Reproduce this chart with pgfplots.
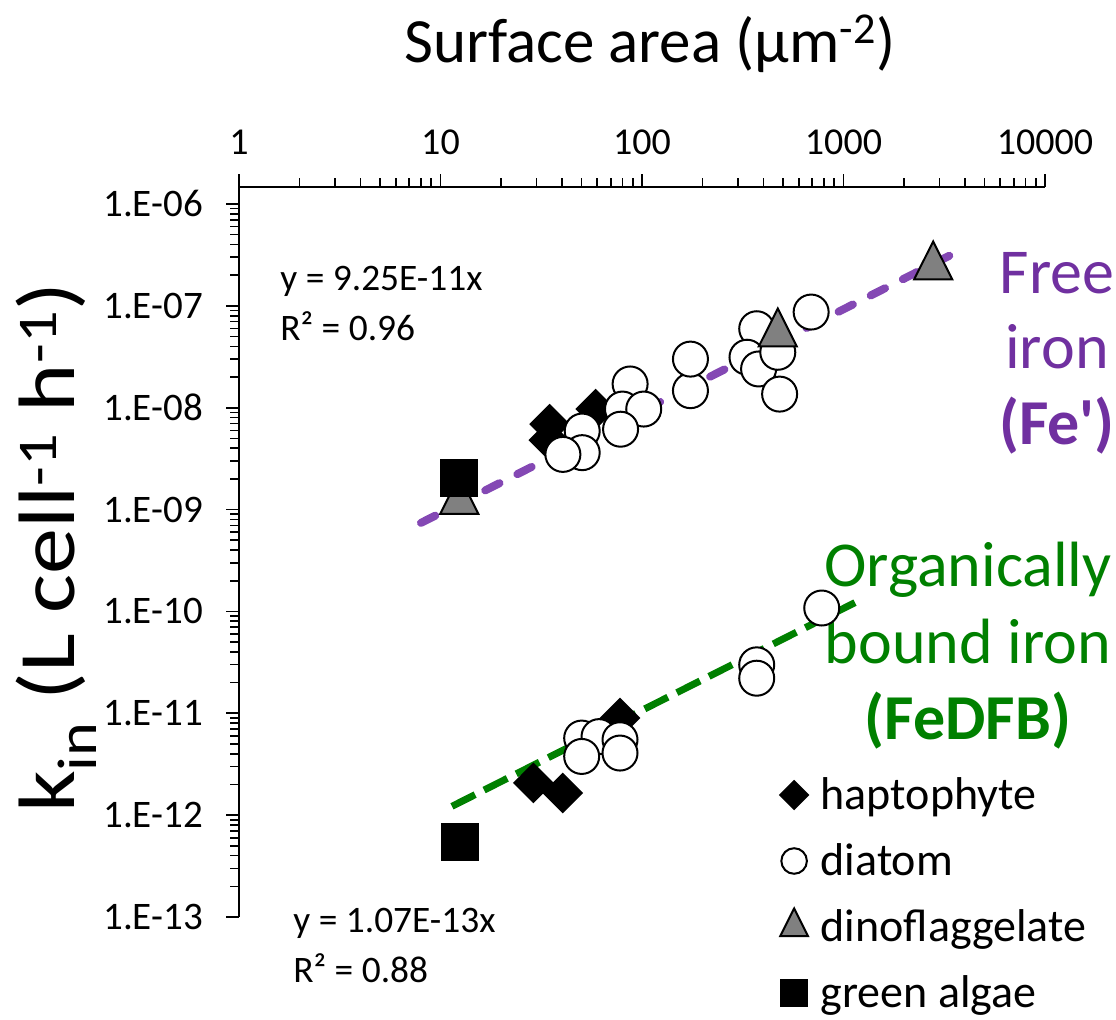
\documentclass[border=0pt]{standalone}
\usepackage{pgfplots}
\pgfplotsset{compat=1.18}
\usepackage{fontspec}
\setmainfont{Carlito}
\newfontfamily\plaincarlito{Carlito}
\definecolor{fepurple}{RGB}{112,48,160}
\definecolor{felinepurple}{RGB}{132,72,180}
\definecolor{dfbgreen}{RGB}{0,128,0}
\definecolor{trigray}{RGB}{128,128,128}
\begin{document}
\begin{tikzpicture}
\useasboundingbox (-119.5pt,-51.5pt) rectangle (438.5pt,458.5pt);
\begin{axis}[
  at={(0pt,0pt)}, anchor=south west,
  scale only axis, width=403pt, height=365pt,
  xmode=log, ymode=log,
  xmin=1, xmax=10000, ymin=1e-13, ymax=1.468e-6,
  axis x line*=top, axis y line*=left,
  axis line style={line width=1pt, black},
  tick align=outside,
  major tick length=6.5pt, minor tick length=4.5pt,
  every tick/.style={black, line width=0.8pt},
  xtick={1,10,100,1000,10000},
  xticklabels={1,10,100,1000,10000},
  minor xtick={2,3,4,5,6,7,8,9,20,30,40,50,60,70,80,90,200,300,400,500,600,700,800,900,2000,3000,4000,5000,6000,7000,8000,9000},
  ytick={1e-13,1e-12,1e-11,1e-10,1e-9,1e-8,1e-7,1e-6},
  yticklabels={1.E-13,1.E-12,1.E-11,1.E-10,1.E-09,1.E-08,1.E-07,1.E-06},
  minor ytick={2e-13,3e-13,4e-13,5e-13,6e-13,7e-13,8e-13,9e-13,
    2e-12,3e-12,4e-12,5e-12,6e-12,7e-12,8e-12,9e-12,
    2e-11,3e-11,4e-11,5e-11,6e-11,7e-11,8e-11,9e-11,
    2e-10,3e-10,4e-10,5e-10,6e-10,7e-10,8e-10,9e-10,
    2e-9,3e-9,4e-9,5e-9,6e-9,7e-9,8e-9,9e-9,
    2e-8,3e-8,4e-8,5e-8,6e-8,7e-8,8e-8,9e-8,
    2e-7,3e-7,4e-7,5e-7,6e-7,7e-7,8e-7,9e-7},
  /pgf/number format/assume math mode=true,
  xticklabel style={font=\fontsize{19}{22}\selectfont, yshift=6pt},
  yticklabel style={font=\fontsize{19.5}{23}\selectfont, xshift=-8pt},
  clip=false,
  legend style={at={(rel axis cs:0.671,0.197)}, anchor=north west, draw=none, fill=none,
    font=\fontsize{23}{27}\selectfont, row sep=11.5pt, inner sep=0pt},
  legend cell align=left,
  legend image code/.code={\path[draw=none,fill=none] (0pt,-0.1pt) rectangle (17pt,0.1pt);\draw[#1, every mark/.append style={scale=0.73}] plot coordinates {(5.7pt,0pt)};},
]
% haptophyte
\addplot[only marks, mark=square*, mark size=6.7pt, mark options={rotate=45, fill=black, draw=black, line width=1pt}]
 coordinates {(34.8,6.9e-9) (34.5,4.8e-9) (58.9,9.7e-9)
  (28.9,2.07e-12) (40.4,1.65e-12) (77.8,8.97e-12)};
\addlegendentry{haptophyte}
% diatom
\addplot[only marks, mark=*, mark size=8.75pt, mark options={fill=white, draw=black, line width=1pt}]
 coordinates {(691,8.69e-8) (371,5.96e-8) (332,3.13e-8) (379,2.40e-8) (472,3.5e-8) (482,1.36e-8)
  (174,1.47e-8) (174,3.0e-8) (87.3,1.71e-8) (80,9.7e-9) (102,9.7e-9) (78.3,6.15e-9)
  (50.5,5.9e-9) (50.5,3.62e-9) (40.5,3.48e-9)
  (50.2,5.71e-12) (61.2,5.9e-12) (50.2,3.77e-12) (77.8,5.5e-12) (77.8,4.07e-12)
  (371,2.99e-11) (371,2.21e-11) (780,1.08e-10)};
\addlegendentry{diatom}
% dinoflagellate
\addplot[only marks, mark=triangle*, mark size=11pt, mark options={yscale=1.15, fill=trigray, draw=black, line width=1pt}]
 coordinates {(2787,2.42e-7) (472,5.31e-8) (12.4,1.21e-9)};
\addlegendentry{dinoflaggelate}
% green algae
\addplot[only marks, mark=square*, mark size=9pt, mark options={fill=black, draw=black, line width=1pt}]
 coordinates {(12.4,2.05e-9) (12.5,5.5e-13)};
\addlegendentry{green algae}
% fits
\addplot[no marks, felinepurple, line width=4pt, line cap=round, dash pattern=on 8pt off 10pt, forget plot]
 coordinates {(8,7.4e-10) (3790,3.51e-7)};
\addplot[no marks, dfbgreen, line width=3.5pt, dash pattern=on 13pt off 5pt, forget plot]
 coordinates {(11.4,1.22e-12) (1140,1.22e-10)};
% texts
\node[anchor=base, font=\fontsize{31.5}{36}\selectfont, inner sep=0pt] at (rel axis cs:0.5099,1.1712) {Surface area (µm\textsuperscript{-2})};
\node[anchor=north, rotate=90, xscale=1.15, font=\fontsize{40}{46}\selectfont, inner sep=0pt] at (rel axis cs:-0.2767,0.506) {k\textsubscript{in} (L cell\textsuperscript{-1} h\textsuperscript{-1})};
\node[anchor=base west, font=\fontsize{18.7}{22}\selectfont, inner sep=0pt] at (rel axis cs:0.0509,0.8589) {y = 9.25E-11x};
\node[anchor=base west, font=\fontsize{18.7}{22}\selectfont, inner sep=0pt] at (rel axis cs:0.0509,0.7904) {R² = 0.96};
\node[anchor=base west, font=\fontsize{18.7}{22}\selectfont, inner sep=0pt] at (rel axis cs:0.067,-0.0219) {y = 1.07E-13x};
\node[anchor=base west, font=\fontsize{18.7}{22}\selectfont, inner sep=0pt] at (rel axis cs:0.067,-0.0904) {R² = 0.88};
\node[anchor=base, text=fepurple, font=\fontsize{32}{38}\selectfont, inner sep=0pt] at (rel axis cs:1.0149,0.8548) {Free};
\node[anchor=base, text=fepurple, font=\fontsize{32}{38}\selectfont, inner sep=0pt] at (rel axis cs:1.0149,0.7507) {iron};
\node[anchor=base, text=fepurple, font=\fontsize{32}{38}\plaincarlito\bfseries, inner sep=0pt] at (rel axis cs:1.0149,0.6466) {(Fe')};
\node[anchor=base, text=dfbgreen, font=\fontsize{32}{38}\selectfont, inner sep=0pt] at (rel axis cs:0.9045,0.4521) {Organically};
\node[anchor=base, text=dfbgreen, font=\fontsize{32}{38}\selectfont, inner sep=0pt] at (rel axis cs:0.9045,0.3479) {bound iron};
\node[anchor=base, text=dfbgreen, font=\fontsize{32}{38}\selectfont\bfseries, inner sep=0pt] at (rel axis cs:0.9045,0.2438) {(FeDFB)};
\end{axis}
\end{tikzpicture}
\end{document}
